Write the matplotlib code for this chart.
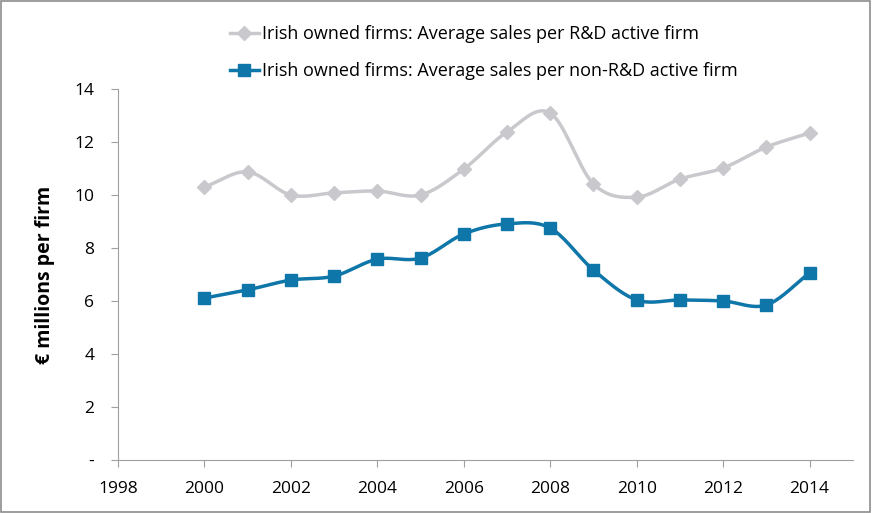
import numpy as np
import matplotlib.pyplot as plt
from matplotlib.patches import Rectangle

plt.rcParams['font.family'] = ['Open Sans', 'DejaVu Sans']

years = [2000, 2001, 2002, 2003, 2004, 2005, 2006, 2007, 2008, 2009, 2010, 2011, 2012, 2013, 2014]
rd_active = [10.30, 10.87, 10.00, 10.08, 10.15, 10.00, 10.98, 12.38, 13.09, 10.42, 9.92, 10.60, 11.02, 11.81, 12.34]
non_rd = [6.11, 6.42, 6.79, 6.94, 7.58, 7.62, 8.53, 8.91, 8.75, 7.17, 6.04, 6.04, 6.00, 5.85, 7.06]
labels = ["Irish owned firms: Average sales per R&D active firm",
          "Irish owned firms: Average sales per non-R&D active firm"]

def smooth(x, y, n=20):
    # catmull-rom style curve like excel's smoothed line
    x = np.asarray(x, float); y = np.asarray(y, float)
    px = np.concatenate([[2*x[0]-x[1]], x, [2*x[-1]-x[-2]]])
    py = np.concatenate([[2*y[0]-y[1]], y, [2*y[-1]-y[-2]]])
    xs, ys = [], []
    t = np.linspace(0, 1, n)
    for i in range(1, len(px)-2):
        for p, out in ((px, xs), (py, ys)):
            p0, p1, p2, p3 = p[i-1], p[i], p[i+1], p[i+2]
            out.extend(0.5*((2*p1) + (-p0+p2)*t + (2*p0-5*p1+4*p2-p3)*t**2 + (-p0+3*p1-3*p2+p3)*t**3))
    return xs, ys

grey = '#C9C9CD'
blue = '#0E76A8'

fig = plt.figure(figsize=(8.72, 5.13), dpi=100)
ax = fig.add_axes([0.1353, 0.1033, 0.8427, 0.7232])
fig.patches.append(Rectangle((0.001, 0.001), 0.997, 0.997, transform=fig.transFigure,
                             fill=False, edgecolor='#8C8C8C', lw=1.2))

sx, sy = smooth(years, rd_active)
ax.plot(sx, sy, color=grey, lw=2.5)
ax.plot(years, rd_active, 'D', color=grey, ms=7, ls='none')
sx, sy = smooth(years, non_rd)
ax.plot(sx, sy, color=blue, lw=2.5)
ax.plot(years, non_rd, 's', color=blue, ms=8.5, ls='none')

h1, = ax.plot([], [], color=grey, lw=2.5, marker='D', ms=7)
h2, = ax.plot([], [], color=blue, lw=2.5, marker='s', ms=8.5)
fig.legend([h1, h2], labels, loc='upper center', bbox_to_anchor=(0.555, 0.982), frameon=False,
           fontsize=13, handlelength=1.6, handletextpad=0.2, labelspacing=1.05)

ax.set_xlim(1998, 2015)
ax.set_ylim(0, 14)
ax.set_xticks(range(1998, 2015, 2))
ax.set_yticks(range(0, 15, 2))
ax.set_yticklabels(['-'] + [str(v) for v in range(2, 15, 2)])
ax.tick_params(labelsize=12.5, color='#A0A0A0', length=5)
ax.tick_params(axis='x', pad=10)
ax.tick_params(axis='y', pad=12)
for s in ['top', 'right']:
    ax.spines[s].set_visible(False)
for s in ['left', 'bottom']:
    ax.spines[s].set_color('#A0A0A0')
ax.set_ylabel('€ millions per firm', fontsize=14, fontweight='bold', labelpad=14)

fig.savefig('out.png', dpi=100)
